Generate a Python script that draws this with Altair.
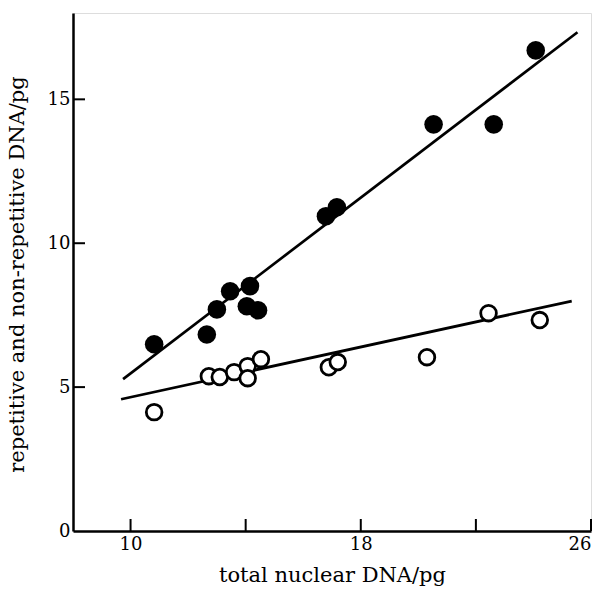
import altair as alt
import pandas as pd

# ---- data ----
filled_x = [10.82, 12.65, 13.00, 13.46, 14.15, 14.04, 14.43, 16.79, 17.17, 20.53, 22.62, 24.08]
filled_y = [6.49, 6.83, 7.70, 8.33, 8.51, 7.81, 7.67, 10.94, 11.25, 14.13, 14.13, 16.70]
open_x = [10.82, 12.72, 13.10, 13.60, 14.07, 14.07, 14.53, 16.89, 17.20, 20.30, 22.44, 24.22]
open_y = [4.13, 5.38, 5.35, 5.52, 5.73, 5.31, 5.97, 5.69, 5.87, 6.04, 7.57, 7.33]

rep_line_x = [9.74, 25.53]
rep_line_y = [5.28, 17.33]
nonrep_line_x = [9.67, 25.33]
nonrep_line_y = [4.58, 7.99]

x_ticks = [10, 14, 18, 22, 26]
x_labels = [10, 18, 26]
y_ticks = [5, 10, 15]
y_labels = [0, 5, 10, 15]

FONT = "DejaVu Serif"
W, H = 518, 518

filled_df = pd.DataFrame({"x": filled_x, "y": filled_y})
open_df = pd.DataFrame({"x": open_x, "y": open_y})
rep_df = pd.DataFrame({"x": rep_line_x, "y": rep_line_y})
nonrep_df = pd.DataFrame({"x": nonrep_line_x, "y": nonrep_line_y})
xt_df = pd.DataFrame({"t": x_ticks})
yt_df = pd.DataFrame({"t": y_ticks})

xs = alt.Scale(domain=[8, 26], nice=False, zero=False)
ys = alt.Scale(domain=[0, 18], nice=False, zero=False)

xaxis = alt.Axis(
    values=x_labels, ticks=False, tickSize=0, grid=False,
    domainColor="black", domainWidth=2.5,
    labelFont=FONT, labelFontSize=18, labelColor="black", labelPadding=4,
    title="total nuclear DNA/pg", titleFont=FONT, titleFontSize=21,
    titleFontWeight="normal", titleColor="black",
    titleY=50, titleBaseline="alphabetic",
)
yaxis = alt.Axis(
    values=y_labels, ticks=False, tickSize=0, grid=False,
    domainColor="black", domainWidth=2.5,
    labelFont=FONT, labelFontSize=18, labelColor="black", labelPadding=3,
    title="repetitive and non-repetitive DNA/pg", titleFont=FONT, titleFontSize=21,
    titleFontWeight="normal", titleColor="black",
    titleX=-50, titleY=H / 2 + 2, titleAngle=270, titleAlign="center",
    titleBaseline="alphabetic",
)

X = lambda f: alt.X(f, type="quantitative", scale=xs, axis=xaxis)
Y = lambda f: alt.Y(f, type="quantitative", scale=ys, axis=yaxis)

rep_line = alt.Chart(rep_df).mark_line(color="black", strokeWidth=2.7).encode(x=X("x"), y=Y("y"))
nonrep_line = alt.Chart(nonrep_df).mark_line(color="black", strokeWidth=2.7).encode(x=X("x"), y=Y("y"))

filled_pts = alt.Chart(filled_df).mark_point(
    shape="circle", filled=True, color="black", size=345, opacity=1
).encode(x=X("x"), y=Y("y"))

open_pts = alt.Chart(open_df).mark_point(
    shape="circle", filled=True, fill="white", stroke="black", strokeWidth=2.8,
    size=245, opacity=1, fillOpacity=1, strokeOpacity=1
).encode(x=X("x"), y=Y("y"))

x_tick_rules = alt.Chart(xt_df).mark_rule(color="black", strokeWidth=2).encode(
    x=X("t"), y=alt.Y(datum=0, scale=ys, axis=yaxis), y2=alt.value(H - 12)
)
y_tick_rules = alt.Chart(yt_df).mark_rule(color="black", strokeWidth=2).encode(
    y=Y("t"), x=alt.X(datum=8, scale=xs, axis=xaxis), x2=alt.value(12)
)

chart = alt.layer(
    x_tick_rules, y_tick_rules, rep_line, nonrep_line, filled_pts, open_pts
).properties(
    width=W, height=H,
    padding={"left": 73, "top": 13, "right": 11, "bottom": 58},
    autosize=alt.AutoSizeParams(type="none"),
    background="white",
).configure_view(stroke=None).configure(font=FONT)

chart.save("out.html", embed_options={"renderer": "svg", "actions": False})
